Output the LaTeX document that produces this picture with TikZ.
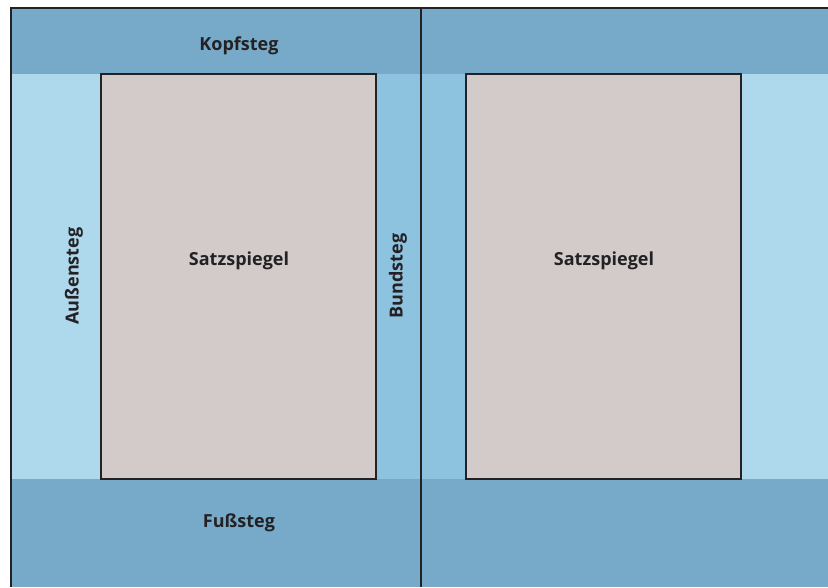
\documentclass[tikz,border=0pt]{standalone}
\usepackage{fontspec}
\setmainfont{Open Sans}
\usetikzlibrary{positioning}
\definecolor{stegdunkel}{RGB}{119,170,200}
\definecolor{steghell}{RGB}{174,216,235}
\definecolor{stegbund}{RGB}{142,195,224}
\definecolor{satzgrau}{RGB}{211,203,201}
\definecolor{linie}{RGB}{35,33,36}
\tikzset{
    band/.style = {fill=stegdunkel,draw=none},
    aussen/.style = {fill=steghell,draw=none},
    bund/.style = {fill=stegbund,draw=none},
    satz/.style = {fill=satzgrau,draw=linie,line width=1.3pt},
    kante/.style = {draw=linie,line width=2.6pt},
    label/.style = {font=\bfseries\fontsize{18}{21}\selectfont,text=linie,inner sep=0pt},
    labelv/.style = {label,rotate=90}
}
\begin{document}
\begin{tikzpicture}[x=1pt,y=-1pt]
\useasboundingbox[fill=white] (0,0) rectangle (828,587);
%
% linke Seite
\fill[aussen] (11,74) rectangle (101,479);
\fill[bund] (376,74) rectangle (421,479);
\fill[band] (11,8) rectangle (421,74);
\fill[band] (11,479) rectangle (421,587);
\draw[satz] (101,74) rectangle (376,479);
%
% rechte Seite
\fill[bund] (421,74) rectangle (466,479);
\fill[aussen] (741,74) rectangle (828,479);
\fill[band] (421,8) rectangle (828,74);
\fill[band] (421,479) rectangle (828,587);
\draw[satz] (466,74) rectangle (741,479);
%
% Kanten
\coordinate (ol) at (11,8);
\coordinate (or) at (828,8);
\coordinate (ul) at (11,587);
\coordinate (om) at (421,8);
\coordinate (um) at (421,587);
\draw[kante] (ul) -- (ol) -- (or);
\draw[kante] (om) -- (um);
%
\node[label] at (239,46) (kopf) {Kopfsteg};
\node[label] at (239,523) (fuss) {Fußsteg};
\node[label] at (239,261) (satzl) {Satzspiegel};
\node[label] at (604,261) (satzr) {Satzspiegel};
\node[labelv] at (74,276) (aussenl) {Außensteg};
\node[labelv] at (398,276) (bundl) {Bundsteg};

\end{tikzpicture}
\end{document}
